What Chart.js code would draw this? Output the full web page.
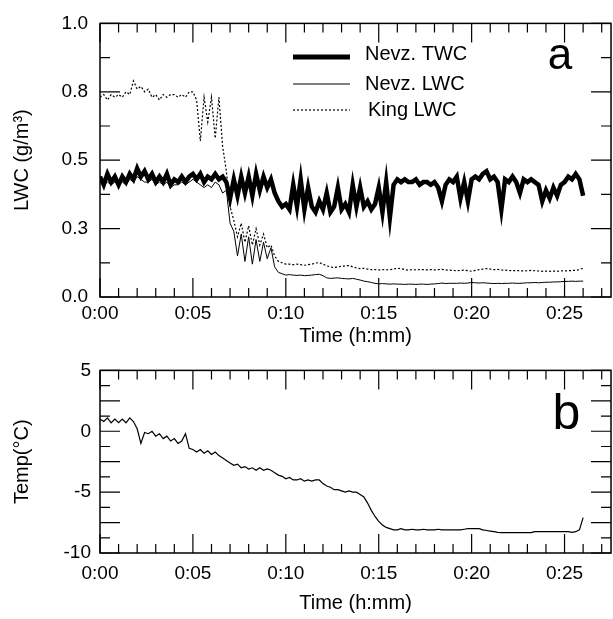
<!DOCTYPE html>
<html>
<head>
<meta charset="utf-8">
<title>LWC and temperature vs time</title>
<script src="https://cdn.jsdelivr.net/npm/chart.js@4.4.1/dist/chart.umd.min.js"></script>
<style>
  body { margin: 0; background: #fff; }
  #wrap { position: relative; width: 613px; height: 619px; }
  canvas { position: absolute; left: 0; }
</style>
</head>
<body>
<div id="wrap">
  <canvas id="lwcChart" width="613" height="350" style="top:0"></canvas>
  <canvas id="tempChart" width="613" height="269" style="top:350px"></canvas>
</div>
<script>
// records are every 0.2 min, starting at 0:00
const sampleStep = 0.2;

// panel a, g/m3 (one row = one minute)
const nevzTwc = [
  0.44, 0.41, 0.45, 0.42, 0.44,
  0.41, 0.44, 0.42, 0.45, 0.43,
  0.47, 0.44, 0.46, 0.43, 0.45,
  0.42, 0.44, 0.42, 0.45, 0.41,
  0.43, 0.42, 0.44, 0.42, 0.44,
  0.45, 0.43, 0.45, 0.42, 0.44,
  0.43, 0.45, 0.43, 0.44, 0.42,
  0.36, 0.43, 0.37, 0.44, 0.38,
  0.44, 0.37, 0.45, 0.39, 0.44,
  0.40, 0.43, 0.38, 0.35, 0.33,
  0.34, 0.32, 0.41, 0.33, 0.43,
  0.32, 0.40, 0.33, 0.31, 0.35,
  0.32, 0.38, 0.31, 0.33, 0.40,
  0.32, 0.34, 0.31, 0.41, 0.33,
  0.40, 0.33, 0.35, 0.32, 0.34,
  0.40, 0.31, 0.42, 0.29, 0.41,
  0.43, 0.42, 0.43, 0.42, 0.42,
  0.43, 0.41, 0.42, 0.42, 0.41,
  0.42, 0.40, 0.35, 0.41, 0.43,
  0.42, 0.44, 0.36, 0.42, 0.35,
  0.43, 0.44, 0.43, 0.45, 0.46,
  0.43, 0.44, 0.42, 0.32, 0.43,
  0.42, 0.44, 0.42, 0.38, 0.43,
  0.42, 0.43, 0.42, 0.41, 0.35,
  0.39, 0.36, 0.40, 0.37, 0.41,
  0.42, 0.44, 0.43, 0.45, 0.43,
  0.37
];

const nevzLwc = [
  0.42, 0.41, 0.42, 0.41, 0.42,
  0.41, 0.42, 0.41, 0.43, 0.42,
  0.44, 0.43, 0.42, 0.42, 0.43,
  0.41, 0.42, 0.41, 0.42, 0.40,
  0.41, 0.41, 0.42, 0.41, 0.42,
  0.43, 0.42, 0.41, 0.40, 0.41,
  0.40, 0.42, 0.41, 0.38, 0.39,
  0.27, 0.24, 0.15, 0.23, 0.13,
  0.22, 0.12, 0.21, 0.13, 0.20,
  0.14, 0.18, 0.11, 0.09, 0.085,
  0.080, 0.082, 0.080, 0.079, 0.080,
  0.078, 0.079, 0.080, 0.082, 0.083,
  0.078, 0.070, 0.068, 0.069, 0.070,
  0.068, 0.067, 0.066, 0.068, 0.065,
  0.062, 0.058, 0.056, 0.053, 0.050,
  0.048, 0.049, 0.048, 0.047, 0.048,
  0.047, 0.047, 0.046, 0.047, 0.047,
  0.046, 0.047, 0.047, 0.046, 0.047,
  0.048, 0.049, 0.051, 0.049, 0.050,
  0.050, 0.050, 0.051, 0.050, 0.051,
  0.053, 0.052, 0.051, 0.052, 0.051,
  0.050, 0.049, 0.050, 0.049, 0.050,
  0.050, 0.051, 0.050, 0.050, 0.051,
  0.052, 0.052, 0.053, 0.052, 0.053,
  0.054, 0.054, 0.055, 0.055, 0.056,
  0.057, 0.057, 0.058, 0.057, 0.058,
  0.058
];

const kingLwc = [
  0.73, 0.74, 0.72, 0.74, 0.73,
  0.74, 0.73, 0.75, 0.74, 0.79,
  0.76, 0.77, 0.75, 0.76, 0.73,
  0.74, 0.72, 0.74, 0.73, 0.74,
  0.74, 0.73, 0.74, 0.73, 0.75,
  0.75, 0.72, 0.57, 0.73, 0.64,
  0.73, 0.58, 0.73, 0.55, 0.46,
  0.33, 0.28, 0.22, 0.27, 0.20,
  0.26, 0.19, 0.25, 0.19, 0.23,
  0.18, 0.19, 0.15, 0.13, 0.125,
  0.120, 0.120, 0.118, 0.120, 0.118,
  0.116, 0.118, 0.120, 0.124, 0.126,
  0.120, 0.114, 0.110, 0.108, 0.110,
  0.112, 0.114, 0.115, 0.110, 0.106,
  0.104, 0.105, 0.102, 0.100, 0.100,
  0.099, 0.100, 0.099, 0.100, 0.102,
  0.105, 0.104, 0.100, 0.098, 0.100,
  0.099, 0.100, 0.100, 0.099, 0.100,
  0.099, 0.100, 0.101, 0.099, 0.098,
  0.097, 0.096, 0.097, 0.098, 0.096,
  0.094, 0.097, 0.100, 0.102, 0.104,
  0.102, 0.100, 0.101, 0.099, 0.098,
  0.097, 0.096, 0.097, 0.096, 0.095,
  0.096, 0.097, 0.096, 0.095, 0.094,
  0.095, 0.094, 0.095, 0.094, 0.096,
  0.095, 0.096, 0.097, 0.097, 0.100,
  0.106
];

// panel b, deg C
const temperature = [
  1.0, 0.8, 1.1, 0.7, 1.0,
  0.7, 1.0, 0.7, 1.1, 0.8,
  0.2, -1.0, -0.1, -0.2, 0.0,
  -0.4, -0.2, -0.6, -0.4, -0.8,
  -0.6, -1.0, -0.8, -0.2, -1.4,
  -1.5, -1.7, -1.5, -1.8, -1.6,
  -1.9, -1.7, -2.0, -2.2, -2.4,
  -2.6, -2.8, -2.7, -3.0, -2.9,
  -3.1, -3.0, -3.2, -3.0, -3.2,
  -3.1, -3.2, -3.4, -3.6, -3.7,
  -3.9, -3.8, -4.0, -4.0, -3.9,
  -4.1, -4.0, -4.1, -4.0, -4.0,
  -4.3, -4.5, -4.6, -4.8, -4.8,
  -4.9, -5.0, -4.9, -5.0, -5.0,
  -5.2, -5.4, -5.9, -6.5, -7.0,
  -7.4, -7.7, -7.9, -8.0, -8.1,
  -8.1, -8.0, -8.1, -8.1, -8.05,
  -8.1, -8.1, -8.05, -8.1, -8.1,
  -8.1, -8.05, -8.1, -8.1, -8.1,
  -8.1, -8.1, -8.1, -8.05, -8.0,
  -8.0, -8.0, -8.0, -8.1, -8.15,
  -8.2, -8.25, -8.3, -8.33, -8.33,
  -8.33, -8.33, -8.33, -8.33, -8.33,
  -8.33, -8.33, -8.25, -8.25, -8.25,
  -8.25, -8.25, -8.25, -8.25, -8.25,
  -8.25, -8.25, -8.3, -8.25, -8.1,
  -7.1
];

const timeTickValues = [0, 5, 10, 15, 20, 25];
const timeTickLabels = ['0:00', '0:05', '0:10', '0:15', '0:20', '0:25'];
const lwcTickValues = [0, 0.25, 0.5, 0.75, 1];
const lwcTickLabels = ['0.0', '0.3', '0.5', '0.8', '1.0'];
const tempTickValues = [-10, -5, 0, 5];
const tempTickLabels = ['-10', '-5', '0', '5'];

const FONT = "'Liberation Sans', Arial, sans-serif";
Chart.defaults.font.family = FONT;
Chart.defaults.color = '#000';

function toPoints(values) {
    return values.map((v, i) => ({ x: Math.round(i * sampleStep * 10) / 10, y: v }));
}

function labelFor(values, labels) {
    return function(value) {
        const i = values.findIndex(v => Math.abs(v - value) < 1e-6);
        return i >= 0 ? labels[i] : '';
    };
}

function onStep(value, step) {
    const r = value / step;
    return Math.abs(r - Math.round(r)) < 1e-6;
}

// box round the plot, inward ticks on all four sides, panel letter, legend
const framePlugin = {
    id: 'frame',
    afterDatasetsDraw(chart, args, opts) {
        const { ctx, chartArea: a } = chart;
        const xs = chart.scales.x;
        const ys = chart.scales.y;
        ctx.save();
        ctx.strokeStyle = '#000';
        ctx.setLineDash([]);
        ctx.lineWidth = 1.2;
        ctx.beginPath();
        xs.ticks.forEach(t => {
            const px = xs.getPixelForValue(t.value);
            const len = onStep(t.value, opts.xMajor) ? 19 : 9;
            ctx.moveTo(px, a.bottom); ctx.lineTo(px, a.bottom - len);
            ctx.moveTo(px, a.top); ctx.lineTo(px, a.top + len);
        });
        ys.ticks.forEach(t => {
            const py = ys.getPixelForValue(t.value);
            const len = onStep(t.value, opts.yMajor) ? 20 : 10;
            ctx.moveTo(a.left, py); ctx.lineTo(a.left + len, py);
            ctx.moveTo(a.right, py); ctx.lineTo(a.right - len, py);
        });
        ctx.stroke();
        ctx.lineWidth = 1.5;
        ctx.strokeRect(a.left, a.top, a.right - a.left, a.bottom - a.top);

        ctx.fillStyle = '#000';
        ctx.font = opts.letterFont;
        ctx.textAlign = 'center';
        ctx.textBaseline = 'alphabetic';
        ctx.fillText(opts.letter, xs.getPixelForValue(opts.letterAt[0]), ys.getPixelForValue(opts.letterAt[1]));

        const lg = opts.legend;
        if (lg) {
            ctx.font = lg.font;
            ctx.textAlign = 'left';
            ctx.textBaseline = 'middle';
            chart.data.datasets.forEach((ds, i) => {
                ctx.lineWidth = lg.lineWidth[i];
                ctx.setLineDash(ds.borderDash || []);
                ctx.beginPath();
                ctx.moveTo(lg.lineFrom, lg.lineY[i]);
                ctx.lineTo(lg.lineTo, lg.lineY[i]);
                ctx.stroke();
                ctx.setLineDash([]);
                ctx.fillText(ds.label, lg.textX[i], lg.textY[i]);
            });
        }
        ctx.restore();
    }
};

function timeAxis(labelPad, titlePad, height) {
    return {
        type: 'linear',
        min: 0,
        max: 27.5,
        grid: { display: false, drawTicks: false },
        border: { display: false },
        ticks: {
            stepSize: 1,
            autoSkip: false,
            includeBounds: false,
            maxRotation: 0,
            padding: labelPad,
            font: { size: 19 },
            callback: labelFor(timeTickValues, timeTickLabels)
        },
        title: { display: true, text: 'Time (h:mm)', font: { size: 20 }, padding: { top: 0, bottom: titlePad } },
        afterFit: s => { s.height = height; }
    };
}

new Chart(document.getElementById('lwcChart'), {
    type: 'line',
    data: {
        datasets: [
            { label: 'Nevz. TWC', data: toPoints(nevzTwc), borderColor: '#000', borderWidth: 4.5 },
            { label: 'Nevz. LWC', data: toPoints(nevzLwc), borderColor: '#000', borderWidth: 1 },
            { label: 'King LWC', data: toPoints(kingLwc), borderColor: '#000', borderWidth: 1.2, borderDash: [2, 2] }
        ]
    },
    options: {
        responsive: false,
        animation: false,
        elements: { point: { radius: 0 }, line: { tension: 0 } },
        layout: { padding: { top: 19, right: 2, left: 0, bottom: 0 } },
        plugins: {
            legend: { display: false },
            tooltip: { enabled: false },
            frame: {
                xMajor: 5,
                yMajor: 0.25,
                letter: 'a',
                letterAt: [24.75, 0.835],
                letterFont: '44px ' + FONT,
                legend: {
                    font: '20px ' + FONT,
                    lineFrom: 293,
                    lineTo: 350,
                    lineWidth: [5, 1, 1.2],
                    lineY: [57, 84, 110],
                    textX: [365, 365, 368],
                    textY: [54, 84, 110]
                }
            }
        },
        scales: {
            x: timeAxis(5, 2, 53),
            y: {
                min: 0,
                max: 1,
                grid: { display: false, drawTicks: false },
                border: { display: false },
                ticks: {
                    stepSize: 0.125,
                    autoSkip: false,
                    padding: 12,
                    font: { size: 19 },
                    callback: labelFor(lwcTickValues, lwcTickLabels)
                },
                title: { display: true, text: 'LWC (g/m³)', font: { size: 20 }, padding: { top: 10, bottom: 0 } },
                afterFit: s => { s.width = 100; }
            }
        }
    },
    plugins: [framePlugin]
});

new Chart(document.getElementById('tempChart'), {
    type: 'line',
    data: {
        datasets: [
            { label: 'Temp', data: toPoints(temperature), borderColor: '#000', borderWidth: 1.2 }
        ]
    },
    options: {
        responsive: false,
        animation: false,
        elements: { point: { radius: 0 }, line: { tension: 0 } },
        layout: { padding: { top: 18, right: 2, left: 0, bottom: 0 } },
        plugins: {
            legend: { display: false },
            tooltip: { enabled: false },
            frame: {
                xMajor: 5,
                yMajor: 2.5,
                letter: 'b',
                letterAt: [25.1, 0.16],
                letterFont: '50px ' + FONT
            }
        },
        scales: {
            x: timeAxis(9, 4, 66),
            y: {
                min: -10,
                max: 5,
                grid: { display: false, drawTicks: false },
                border: { display: false },
                ticks: {
                    stepSize: 1.25,
                    autoSkip: false,
                    padding: 9,
                    font: { size: 19 },
                    callback: labelFor(tempTickValues, tempTickLabels)
                },
                title: { display: true, text: 'Temp(°C)', font: { size: 20 }, padding: { top: 10, bottom: 0 } },
                afterFit: s => { s.width = 100; }
            }
        }
    },
    plugins: [framePlugin]
});
</script>
</body>
</html>
